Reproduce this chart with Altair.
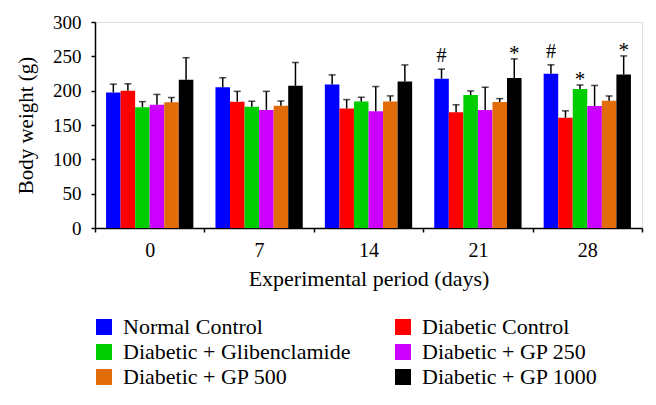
import altair as alt
import pandas as pd

days = ["0", "7", "14", "21", "28"]
groups = ["Normal Control", "Diabetic Control", "Diabetic + Glibenclamide",
          "Diabetic + GP 250", "Diabetic + GP 500", "Diabetic + GP 1000"]
colors = ["#0000FF", "#FF0000", "#00CC00", "#CC00FF", "#E26B0A", "#000000"]
# legend is laid out in two columns, filled column by column
legend_order = ["Normal Control", "Diabetic + Glibenclamide", "Diabetic + GP 500",
                "Diabetic Control", "Diabetic + GP 250", "Diabetic + GP 1000"]

normal_control = [197.5, 204.8, 209.0, 217.4, 224.6]
diabetic_control = [200.0, 184.0, 174.0, 168.4, 160.6]
glibenclamide = [176.0, 176.6, 184.4, 193.6, 202.3]
gp250 = [179.5, 172.0, 170.0, 172.0, 177.6]
gp500 = [183.0, 178.0, 184.4, 183.4, 185.3]
gp1000 = [216.0, 207.0, 213.5, 218.3, 223.6]

sd_normal_control = [12, 14, 14, 14, 13]
sd_diabetic_control = [10, 15, 13, 11, 10]
sd_glibenclamide = [8, 8, 6, 6, 6]
sd_gp250 = [15, 27, 36, 33, 30]
sd_gp500 = [7, 7, 8, 5, 7]
sd_gp1000 = [32, 34, 24, 28, 27]

y_ticks = [0, 50, 100, 150, 200, 250, 300]

# significance markers: (day, group, symbol)
markers = [("21", "Normal Control", "#"), ("28", "Normal Control", "#"),
           ("21", "Diabetic + GP 1000", "*"), ("28", "Diabetic + GP 1000", "*"),
           ("28", "Diabetic + Glibenclamide", "*")]

means = [normal_control, diabetic_control, glibenclamide, gp250, gp500, gp1000]
sds = [sd_normal_control, sd_diabetic_control, sd_glibenclamide, sd_gp250, sd_gp500, sd_gp1000]

rows = []
for g, m, s in zip(groups, means, sds):
    for d, mv, sv in zip(days, m, s):
        rows.append({"day": d, "group": g, "mean": mv, "top": mv + sv})
df = pd.DataFrame(rows)

mk = []
for d, g, sym in markers:
    r = df[(df.day == d) & (df.group == g)].iloc[0]
    mk.append({"day": d, "group": g, "top": r["top"], "sym": sym})
mdf = pd.DataFrame(mk)

FONT = "Liberation Serif"
color_map = dict(zip(groups, colors))

x_axis = alt.Axis(title="Experimental period (days)", labelAngle=0,
                  tickBand="extent", tickSize=4, labelPadding=8,
                  titlePadding=8, domainColor="black", tickColor="black",
                  domainWidth=1.5, tickWidth=1.5,
                  labelFont=FONT, labelFontSize=20, labelColor="black",
                  titleFont=FONT, titleFontSize=22, titleFontWeight="normal",
                  titleColor="black")
y_axis = alt.Axis(title="Body weight (g)", values=y_ticks, tickCount=7,
                  labelOverlap=False, grid=False, tickSize=4, labelPadding=10,
                  titlePadding=16,
                  domainColor="black", tickColor="black",
                  domainWidth=1.5, tickWidth=1.5,
                  labelFont=FONT, labelFontSize=19, labelColor="black",
                  titleFont=FONT, titleFontSize=21, titleFontWeight="normal",
                  titleColor="black")
y_scale = alt.Scale(domain=[0, 300], nice=False)

def xenc():
    return alt.X("day:N", sort=days, scale=alt.Scale(paddingInner=0, paddingOuter=0),
                 axis=x_axis)

def xoenc():
    return alt.XOffset("group:N", sort=groups,
                       scale=alt.Scale(paddingInner=0, paddingOuter=0.76))

bars = alt.Chart(df).mark_bar().encode(
    x=xenc(), xOffset=xoenc(),
    y=alt.Y("mean:Q", scale=y_scale, axis=y_axis),
    color=alt.Color("group:N",
                    scale=alt.Scale(domain=legend_order,
                                    range=[color_map[g] for g in legend_order]),
                    legend=alt.Legend(title=None, orient="none", legendX=-2, legendY=294,
                                      columns=2, columnPadding=41, rowPadding=3,
                                      symbolType="square", symbolSize=256,
                                      symbolStrokeWidth=0, labelOffset=8,
                                      labelFont=FONT, labelFontSize=22,
                                      labelColor="black", labelLimit=400)),
)

err = alt.Chart(df).mark_rule(color="black", strokeWidth=1.5).encode(
    x=xenc(), xOffset=xoenc(),
    y=alt.Y("mean:Q", scale=y_scale, axis=y_axis), y2="top:Q")

caps = alt.Chart(df).mark_tick(color="black", thickness=1.5, size=7, orient="horizontal").encode(
    x=xenc(), xOffset=xoenc(),
    y=alt.Y("top:Q", scale=y_scale, axis=y_axis))

hash_marks = alt.Chart(mdf).transform_filter(alt.datum.sym == "#").mark_text(
    font=FONT, fontSize=20, color="black", baseline="alphabetic", dy=-7).encode(
    x=xenc(), xOffset=xoenc(),
    y=alt.Y("top:Q", scale=y_scale, axis=y_axis), text="sym:N")

star_marks = alt.Chart(mdf).transform_filter(alt.datum.sym == "*").mark_text(
    font=FONT, fontSize=21, color="black", baseline="alphabetic", dy=1).encode(
    x=xenc(), xOffset=xoenc(),
    y=alt.Y("top:Q", scale=y_scale, axis=y_axis), text="sym:N")

chart = alt.layer(bars, err, caps, hash_marks, star_marks).properties(
    width=547, height=206, autosize="none",
    padding={"left": 87, "top": 14, "right": 6, "bottom": 169},
).configure_view(stroke=None).configure(background="white", font=FONT
).configure_legend(labelFont=FONT, labelFontSize=22)

chart.save("out.html", embed_options={"renderer": "svg", "actions": False})
